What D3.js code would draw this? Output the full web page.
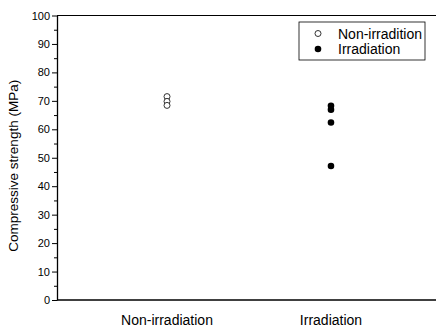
<!DOCTYPE html>
<html>
<head>
<meta charset="utf-8">
<script src="https://cdn.jsdelivr.net/npm/d3@7"></script>
<style>
  body { margin: 0; background: #fff; }
  svg { display: block; font-family: "Liberation Sans", Arial, sans-serif; }
  .axis path, .axis line { stroke: #000; }
  .axis text { font-size: 11px; fill: #000; }
</style>
</head>
<body>
<svg width="436" height="327"></svg>
<script>
// categories on the x axis
const categories = ["Non-irradiation", "Irradiation"];
// measured compressive strength (MPa) per category
const nonIrradiation = [71.5, 69.8, 68.4];
const irradiation = [68.3, 66.9, 62.4, 47.1];
const legendLabels = ["Non-irradition", "Irradiation"];
const yTicks = [0, 10, 20, 30, 40, 50, 60, 70, 80, 90, 100];

const svg = d3.select("svg");
const margin = { top: 15.5, left: 57, bottom: 27 };
const height = 327 - margin.top - margin.bottom;

// categories sit at 1 and 2, axis runs past the right edge of the picture
const x = d3.scaleLinear().domain([0.329, 2.671]).range([margin.left, 441]);
const y = d3.scaleLinear().domain([0, 100]).range([margin.top + height, margin.top]);

const g = svg.append("g");

// top frame line
g.append("line")
  .attr("x1", x.range()[0]).attr("x2", x.range()[1])
  .attr("y1", y(100)).attr("y2", y(100))
  .attr("stroke", "#000").attr("stroke-width", 1);

// left axis with major + minor ticks
g.append("g")
  .attr("class", "axis")
  .attr("transform", `translate(${margin.left},0)`)
  .call(d3.axisLeft(y).tickValues(yTicks).tickSize(5).tickSizeOuter(0).tickPadding(2))
  .call(a => a.select(".domain").attr("stroke-width", 1.3));

g.append("g")
  .attr("class", "axis")
  .attr("transform", `translate(${margin.left},0)`)
  .call(d3.axisLeft(y).tickValues(d3.range(5, 100, 10)).tickSize(3).tickFormat(""))
  .call(a => a.select(".domain").remove());

// bottom axis line
g.append("line")
  .attr("x1", x.range()[0]).attr("x2", x.range()[1])
  .attr("y1", y(0)).attr("y2", y(0))
  .attr("stroke", "#000").attr("stroke-width", 1.5);

// category labels
g.selectAll(".cat")
  .data(categories)
  .join("text")
  .attr("x", (d, i) => x(i + 1))
  .attr("y", y(0) + 25)
  .attr("text-anchor", "middle")
  .attr("font-size", 14)
  .text(d => d);

// y axis title
g.append("text")
  .attr("transform", `translate(18,${y(50) + 8}) rotate(-90)`)
  .attr("text-anchor", "middle")
  .attr("font-size", 13.5)
  .text("Compressive strength (MPa)");

// points
g.selectAll(".open")
  .data(nonIrradiation)
  .join("circle")
  .attr("cx", x(1))
  .attr("cy", d => y(d))
  .attr("r", 3)
  .attr("fill", "#fff")
  .attr("stroke", "#000")
  .attr("stroke-width", 0.8);

g.selectAll(".filled")
  .data(irradiation)
  .join("circle")
  .attr("cx", x(2))
  .attr("cy", d => y(d))
  .attr("r", 3.3)
  .attr("fill", "#000");

// legend
const legend = g.append("g").attr("transform", "translate(299,22)");
legend.append("rect")
  .attr("width", 126).attr("height", 38)
  .attr("fill", "#fff").attr("stroke", "#000").attr("stroke-width", 0.8);

const items = legend.selectAll(".item")
  .data(legendLabels)
  .join("g")
  .attr("transform", (d, i) => `translate(0,${11.5 + i * 15.5})`);

items.append("circle")
  .attr("cx", 19)
  .attr("r", (d, i) => i === 0 ? 3 : 3.3)
  .attr("fill", (d, i) => i === 0 ? "#fff" : "#000")
  .attr("stroke", "#000")
  .attr("stroke-width", (d, i) => i === 0 ? 0.8 : 0);

items.append("text")
  .attr("x", 39)
  .attr("dy", "0.36em")
  .attr("font-size", 14)
  .text(d => d);
</script>
</body>
</html>
